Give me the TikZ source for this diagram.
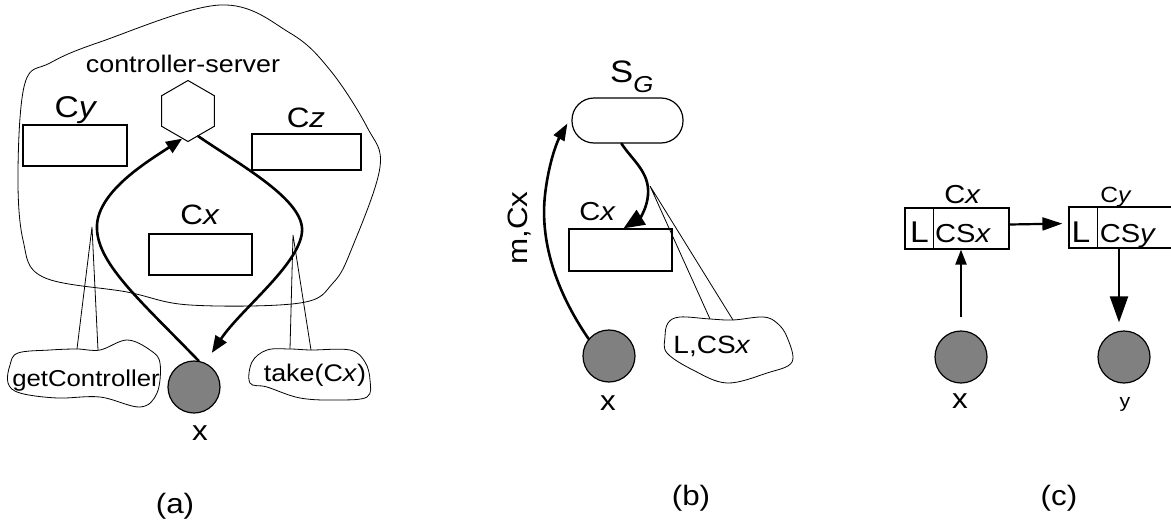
\documentclass[tikz,border=0pt]{standalone}
\usepackage{fontspec}
\setmainfont{Liberation Sans}[FakeStretch=1.12]
\usetikzlibrary{arrows.meta,shapes.geometric}
\definecolor{dotgray}{RGB}{128,128,128}
\tikzset{
  fs/.style={font=\fontsize{#1}{#1}\selectfont, inner sep=0pt, anchor=base},
  box/.style={draw, line width=1.2pt, inner sep=0pt},
  thinline/.style={line width=0.8pt},
  thick arr/.style={line width=2.6pt, line cap=round},
  dot/.style={circle, draw, line width=1.2pt, fill=dotgray, minimum size=52pt, inner sep=0pt},
  hexa/.style={draw, line width=1pt, regular polygon, regular polygon sides=6, shape border rotate=30, minimum size=61pt, inner sep=0pt},
}
\begin{document}
\begin{tikzpicture}[x=1pt,y=-1pt]
\useasboundingbox (0,0) rectangle (1171,525);

% ---------------- (a) ----------------
\draw[thinline] plot[smooth cycle, tension=0.6] coordinates {(25,83) (18,170) (23,240) (43,277) (127,292) (190,305) (300,303) (333,283) (352,248) (380,167) (367,127) (330,70) (290,33) (220,5) (100,42) (50,63)};
\node[fs=24] (cstxt) at (183,72) {controller-server};
\node[hexa] (hex) at (188,111) {};
\node[fs=30] (cyl) at (76,117) {C\textit{y}};
\node[box, minimum width=104pt, minimum height=41pt] (cyb) at (75,145.5) {};
\node[fs=28] (czl) at (306,127) {C\textit{z}};
\node[box, minimum width=109pt, minimum height=36pt] (czb) at (306.5,152) {};
\node[fs=28] (cxla) at (200,224) {C\textit{x}};
\node[box, minimum width=103pt, minimum height=41pt] (cxba) at (200.5,254.5) {};
\node[dot] (xa) at (194,387) {};
\node[fs=28] (xal) at (200,440) {x};

\draw[thick arr, -{Triangle[length=16pt,width=13pt]}] (xa.80) .. controls (140,300) and (95,262) .. (97,225) .. controls (99,190) and (150,160) .. (hex.258);
\draw[thick arr, -{Triangle[length=17pt,width=13pt]}, shorten >=12pt] (hex.292) .. controls (240,165) and (305,200) .. (302,232) .. controls (299,265) and (240,310) .. (xa.65);

\draw[thinline] plot[smooth cycle, tension=0.6] coordinates {(10,365) (18,353) (50,350) (77,349) (100,350) (127,340) (150,350) (160,363) (157,393) (140,407) (100,397) (57,398) (20,393) (8,383)};
\node[fs=23] (gc) at (86,386) {getController};
\coordinate (ga) at (92,227);
\coordinate (g1) at (77,349);
\coordinate (g2) at (98,350);
\draw[thinline] (g1) -- (ga) -- (g2);

\draw[thinline] plot[smooth cycle, tension=0.6] coordinates {(252,362) (267,350) (290,349) (311,350) (350,350) (365,362) (370,380) (367,397) (337,400) (300,398) (267,387) (250,383)};
\node[fs=24] (tk) at (315,381) {take(C\textit{x})};
\coordinate (ta) at (293,235);
\coordinate (t1) at (290,349);
\coordinate (t2) at (311,350);
\draw[thinline] (t1) -- (ta) -- (t2);

\node[fs=28] (la) at (175,513) {(a)};

% ---------------- (b) ----------------
\node[fs=31, anchor=base west] (sgl) at (610,82) {S\raisebox{-10pt}{\fontsize{23}{23}\selectfont\textit{G}}};
\node[draw, line width=1.2pt, rounded corners=22pt, minimum width=111pt, minimum height=45pt, inner sep=0pt] (sg) at (627.5,120.5) {};
\node[fs=26] (cxlb) at (597.5,220) {C\textit{x}};
\node[box, minimum width=103pt, minimum height=42pt] (cxbb) at (620.5,250) {};
\node[dot] (xb) at (609,356) {};
\node[fs=28] (xbl) at (608,410) {x};
\node[fs=28, rotate=90] (mcx) at (527,228) {m,Cx};

\draw[thick arr, -{Triangle[length=17pt,width=12pt]}] (xb.140) .. controls (555,290) and (540,240) .. (545,195) .. controls (549,160) and (558,140) .. ([xshift=-4pt,yshift=-3pt]sg.west);
\draw[thick arr, -{Triangle[length=21pt,width=17pt]}] ([xshift=-6pt]sg.south) .. controls (632,160) and (650,172) .. (648,195) .. controls (647,208) and (640,218) .. ([xshift=3pt]cxbb.north);

\draw[thinline] plot[smooth cycle, tension=0.6] coordinates {(668,323) (680,317) (710,319) (733,320) (763,317) (777,323) (787,337) (792,362) (767,373) (727,383) (693,370) (667,353) (665,337)};
\node[fs=25] (lcs) at (712,353) {L,CS\textit{x}};
\coordinate (lca) at (650,186);
\coordinate (lc1) at (710,319);
\coordinate (lc2) at (733,320);
\draw[thinline] (lc1) -- (lca) -- (lc2);

\node[fs=28] (lb) at (691,505) {(b)};

% ---------------- (c) ----------------
\node[fs=26] (cxlc) at (962.5,203) {C\textit{x}};
\node[box, minimum width=104pt, minimum height=41pt] (b1) at (957,228.5) {};
\draw[line width=0.6pt] (933,208) -- (933,249);
\node[fs=30] (l1) at (919.5,242) {L};
\node[fs=26] (cs1) at (963,242) {CS\textit{x}};

\node[fs=22] (cylc) at (1116,202) {C\textit{y}};
\node[box, minimum width=104pt, minimum height=41pt] (b2) at (1121,227.5) {};
\draw[line width=0.6pt] (1097,207) -- (1097,248);
\node[fs=30] (l2) at (1081,242) {L};
\node[fs=26] (cs2) at (1128,242) {CS\textit{y}};

\node[dot] (cx) at (961,357) {};
\node[dot] (cy) at (1124,357) {};
\node[fs=28] (cxl) at (960,408) {x};
\node[fs=19] (cyl2) at (1125,407) {y};

\draw[line width=2.2pt, -{Triangle[length=20pt,width=13pt]}, shorten >=6pt] ([yshift=4pt]b1.east) -- ([yshift=4pt]b2.west);
\draw[line width=2.2pt, -{Triangle[length=15pt,width=11pt]}, shorten <=13pt] (cx.north) -- (cx.north |- b1.south);
\draw[line width=2.2pt, -{Triangle[length=26pt,width=18pt]}, shorten >=8pt] ([xshift=-5pt]cy.north |- b2.south) -- ([xshift=-5pt]cy.north);

\node[fs=28] (lc) at (1059,505) {(c)};
\end{tikzpicture}
\end{document}
